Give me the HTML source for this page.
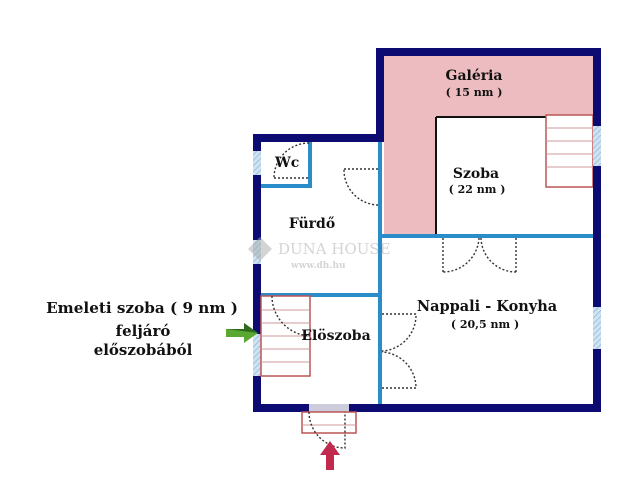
<!DOCTYPE html>
<html><head><meta charset="utf-8"><style>
html,body{margin:0;padding:0;background:#fff;width:640px;height:503px;overflow:hidden}
svg{display:block}
text{font-family:"DejaVu Serif","Liberation Serif",serif;font-weight:bold;fill:#111}
</style></head><body>
<svg width="640" height="503" viewBox="0 0 640 503" xmlns="http://www.w3.org/2000/svg">
<defs>
<pattern id="h" width="4" height="4" patternUnits="userSpaceOnUse" patternTransform="rotate(45)">
<rect width="4" height="4" fill="#cfe3f2"/><line x1="0" y1="0" x2="0" y2="4" stroke="#8fb8d8" stroke-width="1.5"/></pattern>
</defs>
<path d="M384 56 H593 V235 H384 Z" fill="#ecbcc0"/>
<rect x="436" y="117" width="157" height="118" fill="#fff"/>
<line x1="436" y1="117" x2="547" y2="117" stroke="#111" stroke-width="2"/>
<line x1="436" y1="117" x2="436" y2="235" stroke="#111" stroke-width="2"/>
<rect x="546" y="115" width="47" height="72" fill="#fff" stroke="#b55" stroke-width="1.5"/>
<g stroke="#c99" stroke-width="1"><line x1="546" y1="128" x2="593" y2="128"/><line x1="546" y1="141" x2="593" y2="141"/><line x1="546" y1="154" x2="593" y2="154"/><line x1="546" y1="167" x2="593" y2="167"/></g>
<g fill="#2a8cc8">
<rect x="378" y="140" width="4" height="266"/>
<rect x="380" y="234" width="214" height="4"/>
<rect x="259" y="293" width="121" height="4"/>
<rect x="308" y="140" width="4" height="48"/>
<rect x="259" y="184" width="53" height="4"/>
</g>
<g fill="#0b0b72">
<rect x="253" y="134" width="131" height="8"/>
<rect x="253" y="134" width="8" height="278"/>
<rect x="376" y="48" width="8" height="94"/>
<rect x="376" y="48" width="225" height="8"/>
<rect x="593" y="48" width="8" height="364"/>
<rect x="253" y="404" width="348" height="8"/>
</g>
<rect x="253" y="151" width="8" height="24" fill="url(#h)"/>
<rect x="253" y="240" width="8" height="24" fill="url(#h)"/>
<rect x="253" y="334" width="8" height="42" fill="url(#h)"/>
<rect x="593" y="126" width="8" height="40" fill="url(#h)"/>
<rect x="593" y="307" width="8" height="42" fill="url(#h)"/>
<rect x="309" y="404" width="40" height="8" fill="#ccd"/>
<rect x="302" y="412" width="54" height="21" fill="#fff" stroke="#b55" stroke-width="1.5"/>
<line x1="302" y1="425" x2="356" y2="425" stroke="#c99"/>
<rect x="261" y="296" width="49" height="80" fill="#fff" stroke="#b55" stroke-width="1.5"/>
<g stroke="#c99" stroke-width="1"><line x1="261" y1="310" x2="310" y2="310"/><line x1="261" y1="323" x2="310" y2="323"/><line x1="261" y1="336" x2="310" y2="336"/><line x1="261" y1="349" x2="310" y2="349"/><line x1="261" y1="362" x2="310" y2="362"/></g>
<g fill="none" stroke="#333" stroke-width="1.4" stroke-dasharray="2,2">
<path d="M274 178 H309 M309 143 A35 35 0 0 0 274 178"/>
<path d="M344 169 H378 M378 205 A35 35 0 0 1 344 169"/>
<path d="M443 238 V272 M479 238 A36 36 0 0 1 443 272 M516 238 V272 M481 238 A35 35 0 0 0 516 272"/>
<path d="M382 314 H416 V316 A36 36 0 0 1 382 351 M382 388 H416 A36 36 0 0 0 382 352"/>
<path d="M272 296 A40 40 0 0 0 310 336"/>
<path d="M309 412 A36 36 0 0 0 345 448 V412"/>
</g>
<polygon points="226,329 244,329 244,323 258,333 244,343 244,337 226,337" fill="#5aa832"/>
<polygon points="226,329 244,329 244,323 258,333" fill="#2e6a20"/>
<polygon points="330,441 340,455 334,455 334,470 326,470 326,455 320,455" fill="#c2294f"/>
<g opacity="0.5">
<polygon points="260,237 272,249 260,261 248,249" fill="#aaa"/>
<text x="278" y="254" font-size="15" style="font-weight:normal;fill:#aaa">DUNA HOUSE</text>
<text x="291" y="268" font-size="9" style="fill:#aaa">www.dh.hu</text>
</g>
<text x="474" y="80" font-size="14" text-anchor="middle">Galéria</text>
<text x="474" y="96" font-size="11" text-anchor="middle">( 15 nm )</text>
<text x="476" y="178" font-size="14" text-anchor="middle">Szoba</text>
<text x="477" y="193" font-size="11" text-anchor="middle">( 22 nm )</text>
<text x="275" y="167" font-size="14">Wc</text>
<text x="312" y="228" font-size="14" text-anchor="middle">Fürdő</text>
<text x="336" y="340" font-size="14" text-anchor="middle">Elöszoba</text>
<text x="487" y="311" font-size="14.5" text-anchor="middle">Nappali - Konyha</text>
<text x="485" y="328" font-size="11" text-anchor="middle">( 20,5 nm )</text>
<text x="142" y="313" font-size="15.2" text-anchor="middle">Emeleti szoba ( 9 nm )</text>
<text x="143" y="336" font-size="15" text-anchor="middle">feljáró</text>
<text x="143" y="355" font-size="15" text-anchor="middle">előszobából</text>
</svg>
</body></html>
